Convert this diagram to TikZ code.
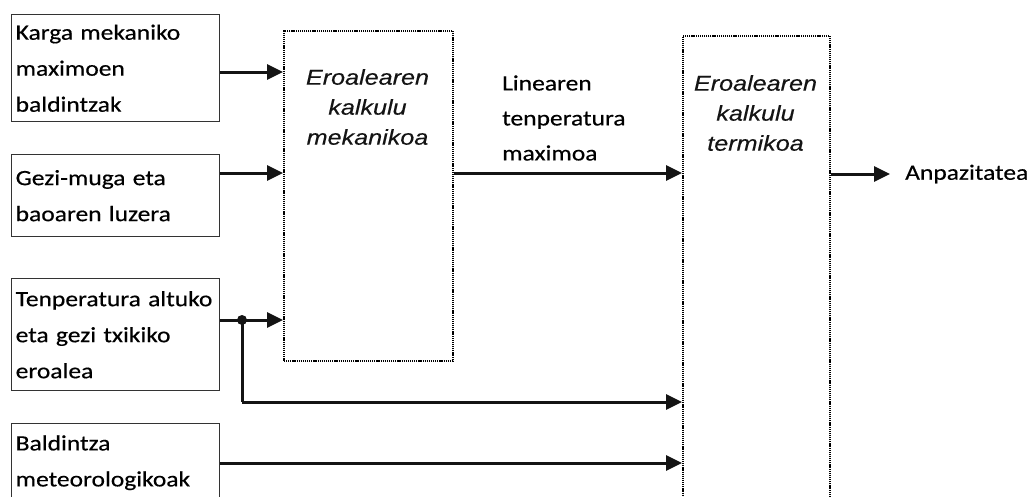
\documentclass[tikz,border=0pt]{standalone}
\usepackage{fontspec}
\newfontfamily\boxfont[FakeStretch=1.17,FakeBold=0.45]{Carlito}
\newfontfamily\calcfont[FakeStretch=1.17,FakeBold=0.3]{Liberation Sans}
\usetikzlibrary{arrows.meta}

\begin{document}
\begin{tikzpicture}[x=1pt,y=-1pt,
  inbox/.style={draw=black!80, line width=1.4pt, rectangle, anchor=north west,
    text width=200pt, align=left, inner sep=4pt, text=black,
    font=\boxfont\fontsize{21.8}{36}\selectfont},
  calcbox/.style={draw=black, dash pattern=on 1.2pt off 0.9pt, line width=1.8pt,
    rectangle, anchor=north west, inner sep=0pt},
  calclabel/.style={align=center, inner sep=0pt,
    font=\calcfont\itshape\fontsize{21.5}{30}\selectfont, text=black!92},
  plainlabel/.style={align=left, inner sep=0pt,
    font=\boxfont\fontsize{21.8}{35}\selectfont, text=black},
  flow/.style={line width=3pt, draw=black!92, line cap=butt,
    -{Triangle[length=16pt,width=15pt]}},
  line/.style={line width=3pt, draw=black!92}
]
\useasboundingbox (0,0) rectangle (1029,496);

% input boxes
\node[inbox, minimum height=107pt] (b1) at (11,14)  {Karga mekaniko\\maximoen\\baldintzak};
\node[inbox, minimum height=82pt]  (b2) at (11,154) {Gezi-muga eta\\baoaren luzera};
\node[inbox, minimum height=112pt] (b3) at (11,278) {Tenperatura altuko\\eta gezi txikiko\\eroalea};
\node[inbox, minimum height=78pt]  (b4) at (11,423) {Baldintza\\meteorologikoak};

% calculation blocks
\node[calcbox, minimum width=169pt, minimum height=330pt] (m) at (283,30) {};
\node[calcbox, minimum width=147pt, minimum height=480pt] (t) at (682,35) {};
\node[calclabel] (mlab) at (367.5,107) {Eroalearen\\kalkulu\\mekanikoa};
\node[calclabel] (tlab) at (755.5,113) {Eroalearen\\kalkulu\\termikoa};

% intermediate and output labels
\node[plainlabel, anchor=west] (lin) at (502,118) {Linearen\\tenperatura\\maximoa};
\node[plainlabel, anchor=west] (out) at (905,174) {Anpazitatea};

% connectors
\coordinate (y1) at (0,72);
\coordinate (y2) at (0,173);
\coordinate (y3) at (0,320);
\coordinate (y4) at (0,402);
\coordinate (y5) at (0,463);
\coordinate (jx) at (242,0);

\draw[flow] (b1.east |- y1) -- (m.west |- y1);
\draw[flow] (b2.east |- y2) -- (m.west |- y2);
\draw[flow] (b3.east |- y3) -- (m.west |- y3);
\coordinate (j) at (jx |- y3);
\fill[black!92] (j) circle (5pt);
\draw[line] (j) -- (jx |- y4);
\draw[flow] (jx |- y4) -- (t.west |- y4);
\draw[flow] (b4.east |- y5) -- (t.west |- y5);
\draw[flow] (m.east |- y2) -- (t.west |- y2);
\draw[flow, shorten >=15pt] (t.east |- out.west) -- (out.west);
\end{tikzpicture}
\end{document}
